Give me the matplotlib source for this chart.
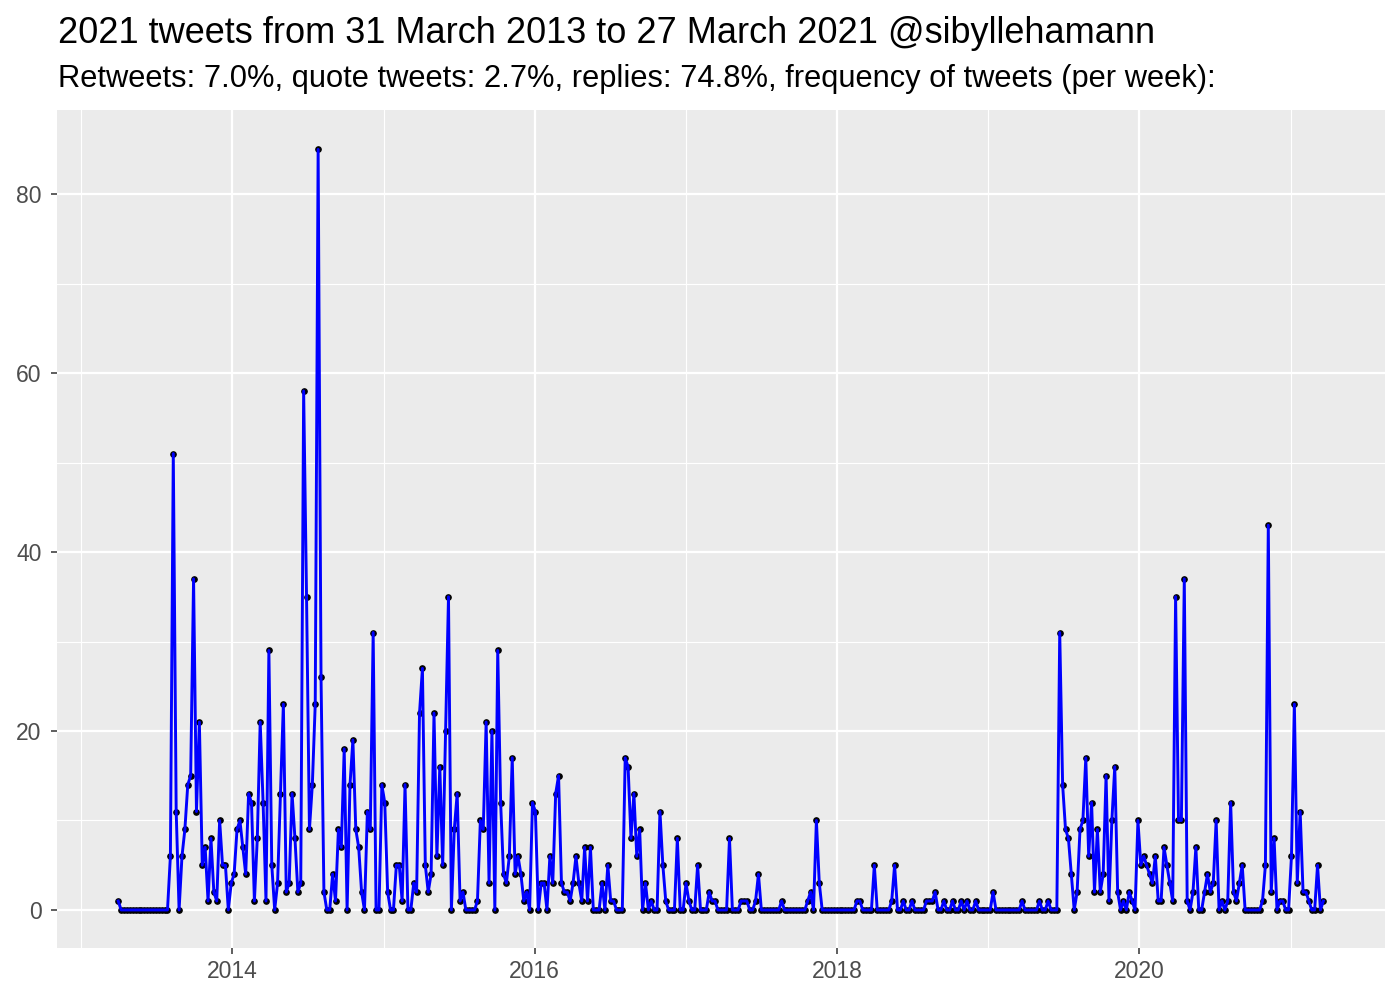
import matplotlib
matplotlib.use('Agg')
import matplotlib.pyplot as plt
import matplotlib.dates as mdates
import pandas as pd

plt.rcParams['font.family'] = ['Liberation Sans', 'DejaVu Sans']

# tweets per week, grouped by the calendar year of the week start (Sundays)
y2013 = [1, 0, 0, 0, 0, 0, 0, 0, 0, 0, 0, 0, 0, 0, 0, 0, 0, 0,
         6, 51, 11, 0, 6, 9, 14, 15, 37, 11, 21, 5, 7, 1, 8, 2, 1, 10, 5, 5, 0, 3]
y2014 = [4, 9, 10, 7, 4, 13, 12, 1, 8, 21, 12, 1, 29, 5, 0, 3, 13, 23, 2, 3,
         13, 8, 2, 3, 58, 35, 9, 14, 23, 85, 26, 2, 0, 0, 4, 1, 9, 7, 18, 0,
         14, 19, 9, 7, 2, 0, 11, 9, 31, 0, 0, 14]
y2015 = [12, 2, 0, 0, 5, 5, 1, 14, 0, 0, 3, 2, 22, 27, 5, 2, 4, 22, 6, 16,
         5, 20, 35, 0, 9, 13, 1, 2, 0, 0, 0, 0, 1, 10, 9, 21, 3, 20, 0, 29,
         12, 4, 3, 6, 17, 4, 6, 4, 1, 2, 0, 12]
y2016 = [11, 0, 3, 3, 0, 6, 3, 13, 15, 3, 2, 2, 1, 3, 6, 3, 1, 7, 1, 7,
         0, 0, 0, 3, 0, 5, 1, 1, 0, 0, 0, 17, 16, 8, 13, 6, 9, 0, 3, 0,
         1, 0, 0, 11, 5, 1, 0, 0, 0, 8, 0, 0]
y2017 = [3, 1, 0, 0, 5, 0, 0, 0, 2, 1, 1, 0, 0, 0, 0, 8, 0, 0, 0, 1, 1, 1, 0, 0, 1, 4,
         0, 0, 0, 0, 0, 0, 0, 1, 0, 0, 0, 0, 0, 0, 0, 0, 1, 2, 0, 10, 3, 0, 0, 0, 0, 0, 0]
y2018 = [0, 0, 0, 0, 0, 0, 1, 1, 0, 0, 0, 0, 5, 0, 0, 0, 0, 0, 1, 5,
         0, 0, 1, 0, 0, 1, 0, 0, 0, 0, 1, 1, 1, 2, 0, 0, 1, 0, 0, 1,
         0, 0, 1, 0, 1, 0, 0, 1, 0, 0, 0, 0]
y2019 = [0, 2, 0, 0, 0, 0, 0, 0, 0, 0, 0, 1, 0, 0, 0, 0, 0, 1, 0, 0,
         1, 0, 0, 0, 31, 14, 9, 8, 4, 0, 2, 9, 10, 17, 6, 12, 2, 9, 2, 4,
         15, 1, 10, 16, 2, 0, 1, 0, 2, 1, 0, 10]
y2020 = [5, 6, 5, 4, 3, 6, 1, 1, 7, 5, 3, 1, 35, 10, 10, 37, 1, 0, 2, 7,
         0, 0, 2, 4, 2, 3, 10, 0, 1, 0, 1, 12, 2, 1, 3, 5, 0, 0, 0, 0,
         0, 0, 1, 5, 43, 2, 8, 0, 1, 1, 0, 0]
y2021 = [6, 23, 3, 11, 2, 2, 1, 0, 0, 5, 0, 1]

counts = y2013 + y2014 + y2015 + y2016 + y2017 + y2018 + y2019 + y2020 + y2021
weeks = pd.date_range('2013-03-31', periods=len(counts), freq='7D')

title = "2021 tweets from 31 March 2013 to 27 March 2021 @sibyllehamann"
subtitle = "Retweets: 7.0%, quote tweets: 2.7%, replies: 74.8%, frequency of tweets (per week):"

fig = plt.figure(figsize=(14, 10), dpi=100)
ax = fig.add_axes([57 / 1400, 52 / 1000, 1328 / 1400, 838 / 1000])
ax.set_facecolor('#EBEBEB')
for s in ax.spines.values():
    s.set_visible(False)

ax.plot(weeks, counts, 'o', color='black', ms=3.8, zorder=3)
ax.plot(weeks, counts, color='blue', lw=2.1, zorder=4)

ax.set_xlim(pd.Timestamp('2012-11-03'), pd.Timestamp('2021-08-17'))
ax.set_ylim(-4.25, 89.4)

ax.xaxis.set_major_locator(mdates.YearLocator(2))
ax.xaxis.set_major_formatter(mdates.DateFormatter('%Y'))
ax.xaxis.set_minor_locator(mdates.YearLocator(1))
ax.set_yticks([0, 20, 40, 60, 80])
ax.set_yticks([10, 30, 50, 70], minor=True)

ax.grid(which='major', color='white', lw=1.6)
ax.grid(which='minor', color='white', lw=0.8)
ax.set_axisbelow(True)

ax.tick_params(which='major', length=4, width=1.1, color='#333333',
               labelsize=16.5, labelcolor='#4D4D4D')
ax.tick_params(axis='x', pad=5)
ax.tick_params(axis='y', pad=7)
ax.tick_params(which='minor', length=0)

fig.text(58 / 1400, 1 - 43 / 1000, title, fontsize=26, va='baseline', ha='left')
fig.text(58 / 1400, 1 - 87 / 1000, subtitle, fontsize=22.2, va='baseline', ha='left')

fig.savefig('out.png', dpi=100)
